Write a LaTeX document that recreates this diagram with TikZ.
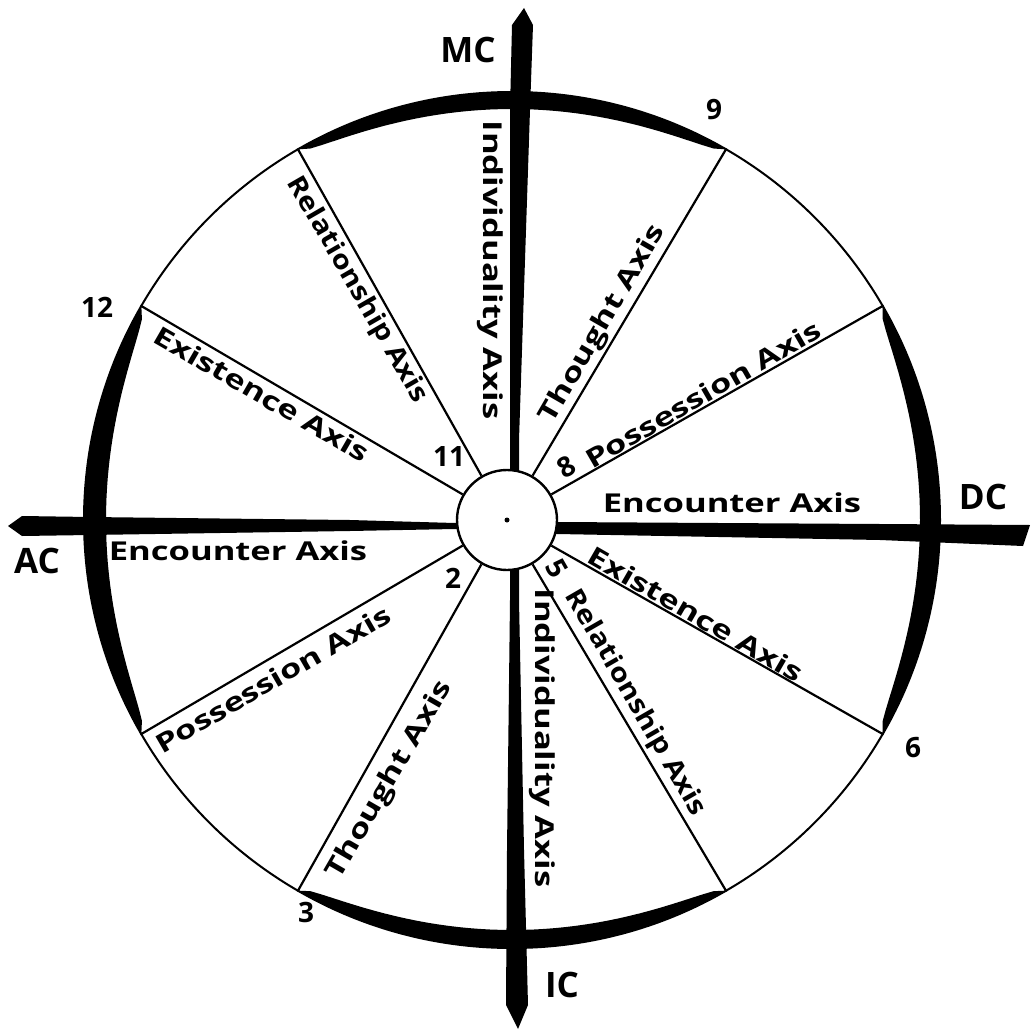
\documentclass[tikz,border=0pt]{standalone}
\usepackage{fontspec}
\newfontfamily\handw[FakeStretch=1.33]{Open Sans}
\newfontfamily\handr[FakeStretch=1.15]{Open Sans}
\newfontfamily\handn{Open Sans}
\begin{document}
\begin{tikzpicture}[x=1pt,y=-1pt,
  lbl/.style={font=\handw\bfseries\fontsize{26}{26}\selectfont, inner sep=0pt},
  rlbl/.style={font=\handr\bfseries\fontsize{26}{26}\selectfont, inner sep=0pt},
  num/.style={font=\handn\bfseries\fontsize{28}{28}\selectfont, inner sep=0pt},
  pole/.style={font=\handn\bfseries\fontsize{35}{35}\selectfont, inner sep=0pt},
  spoke/.style={line width=2.2pt},
]
\useasboundingbox[fill=white] (0,0) rectangle (1031,1030);
% axes
\fill (524,8) -- (533,25) -- (530,110) -- (519,440) -- (519,600) -- (524,850) -- (528,1005) -- (518,1029) -- (506,1005) -- (507,850) -- (510,600) -- (510,440) -- (510,110) -- (512,25) -- cycle;
\fill (8,526) -- (22,516) -- (90,517) -- (350,520) -- (455,523) -- (557,522) -- (880,524) -- (1030,525) -- (1023,546) -- (880,540) -- (557,534) -- (455,529) -- (350,531) -- (90,535) -- (22,536) -- cycle;
% rim
\node[circle, draw, line width=2pt, minimum size=856pt, inner sep=0pt] (rim) at (512,520) {};
% thick crescents
\foreach \m/\w in {0/20, 90/17, 180/22, 270/18} {
  \fill plot[domain=\m-30:\m+30, samples=41, variable=\t] ({512+428*cos(\t)},{520-428*sin(\t)})
   -- plot[domain=\m+30:\m-30, samples=41, variable=\t]
   ({512+(428-\w*sqrt(abs(1-((\t-\m)/30)*((\t-\m)/30))))*cos(\t)},{520-(428-\w*sqrt(abs(1-((\t-\m)/30)*((\t-\m)/30))))*sin(\t)}) -- cycle;
}
% hub
\node[circle, draw, line width=2.4pt, minimum size=100pt, inner sep=0pt, fill=white] (hub) at (507,520) {};
\fill (hub.center) circle (2.5);
% spokes
\foreach \a in {30,60,120,150,210,240,300,330} \draw[spoke] (hub.\a) -- (rim.\a);
% pole labels
\node[pole] (mc) at (468,50) {MC};
\node[pole] (dc) at (983,497) {DC};
\node[pole] (ac) at (37,561) {AC};
\node[pole] (ic) at (562,985) {IC};
% house numbers
\node[num] (h9) at (714,110) {9};
\node[num] (h12) at (97,307) {12};
\node[num] (h6) at (913,748) {6};
\node[num] (h3) at (306,912) {3};
\node[num] (h11) at (449,457) {11};
\node[num, rotate=30] (h8) at (566,467) {8};
\node[num] (h2) at (453,578) {2};
\node[num, rotate=-60] (h5) at (557,568) {5};
% axis labels
\node[lbl, rotate=-90] (ind1) at (490,270) {Individuality Axis};
\node[rlbl, rotate=-60] (rel1) at (357,290) {Relationship Axis};
\node[lbl, rotate=60] (th1) at (603,324) {Thought Axis};
\node[lbl, rotate=30] (pos1) at (703,394) {Possession Axis};
\node[lbl] (enc1) at (732,503) {Encounter Axis};
\node[lbl, rotate=-30] (ex1) at (262,394) {Existence Axis};
\node[lbl] (enc2) at (238,551) {Encounter Axis};
\node[lbl, rotate=30] (pos2) at (273,679) {Possession Axis};
\node[lbl, rotate=60] (th2) at (390,780) {Thought Axis};
\node[lbl, rotate=-90] (ind2) at (542,738) {Individuality Axis};
\node[rlbl, rotate=-60] (rel2) at (635,703) {Relationship Axis};
\node[lbl, rotate=-30] (ex2) at (696,614) {Existence Axis};
\end{tikzpicture}
\end{document}
